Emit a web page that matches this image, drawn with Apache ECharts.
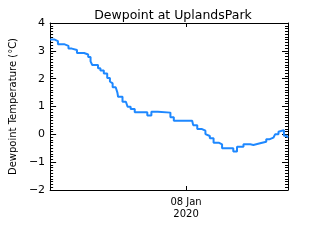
<!DOCTYPE html>
<html>
<head>
<meta charset="utf-8">
<script src="https://cdn.jsdelivr.net/npm/echarts@6/dist/echarts.min.js"></script>
<style>html,body{margin:0;padding:0;background:#fff}#c{width:320px;height:240px}</style>
</head>
<body>
<div id="c"></div>
<script>
// hours relative to 08 Jan 2020 00:00
const hours = [-40.0,-38.8,-37.7,-35.9,-34.6,-33.6,-32.1,-30.0,-28.8,-28.1,-27.6,-25.9,-25.2,-24.2,-23.2,-22.4,-22.0,-21.6,-20.7,-20.2,-20.0,-18.7,-17.7,-17.2,-16.3,-15.1,-11.4,-10.2,-8.3,-4.6,-3.6,1.8,2.1,3.3,4.7,5.7,6.2,7.0,8.1,9.6,10.6,13.9,15.0,16.9,18.9,19.8,20.3,21.8,23.6,24.5,25.7,26.2,27.2,27.7,28.8,29.6,30.0];
const dewpoint = [3.41,3.35,3.24,3.18,3.08,3.03,2.92,2.87,2.78,2.62,2.49,2.37,2.29,2.19,2.02,1.90,1.83,1.69,1.62,1.50,1.35,1.17,1.11,0.99,0.91,0.79,0.68,0.81,0.78,0.61,0.49,0.45,0.33,0.19,0.13,0.01,-0.06,-0.14,-0.30,-0.36,-0.50,-0.62,-0.45,-0.36,-0.38,-0.45,-0.32,-0.27,-0.18,-0.12,-0.05,0.00,0.09,0.15,-0.05,-0.12,-0.12];
const xTickLabels = {0: '08 Jan\n2020'};
const yTicks = [-2,-1,0,1,2,3,4];
const titleText = 'Dewpoint at UplandsPark';
const yName = 'Dewpoint Temperature (°C)';

const chart = echarts.init(document.getElementById('c'), null, {renderer: 'canvas'});
const font = 'DejaVu Sans';
const axisLine = {show: true, onZero: false, lineStyle: {color: '#000', width: 1}};
chart.setOption({
  animation: false,
  backgroundColor: '#fff',
  title: {text: titleText, left: 168, top: 4, textAlign: 'center',
    textStyle: {fontFamily: font, fontSize: 12.5, fontWeight: 'normal', color: '#000'}},
  grid: {left: 49, right: 32, top: 23, bottom: 50},
  xAxis: [{
    type: 'value', min: -40, max: 30, interval: 40, position: 'bottom',
    axisLine: axisLine,
    axisTick: {show: true, inside: true, length: 4, lineStyle: {color: '#000'}},
    axisLabel: {fontFamily: font, fontSize: 10, color: '#000', lineHeight: 12, margin: 6,
      formatter: v => xTickLabels[v] || ''},
    splitLine: {show: false}
  }, {
    type: 'value', min: -40, max: 30, interval: 40, position: 'top',
    axisLine: axisLine,
    axisTick: {show: true, inside: true, length: 4, lineStyle: {color: '#000'}},
    axisLabel: {show: false}, splitLine: {show: false}
  }],
  yAxis: [{
    type: 'value', min: -2, max: 4, interval: 1, position: 'left',
    name: yName, nameLocation: 'middle', nameGap: 21,
    nameTextStyle: {fontFamily: font, fontSize: 10, color: '#000'},
    axisLine: axisLine,
    axisTick: {show: true, inside: true, length: 6, lineStyle: {color: '#000'}},
    minorTick: {show: true, splitNumber: 10, length: 3, lineStyle: {color: '#000'}},
    axisLabel: {fontFamily: font, fontSize: 11, color: '#000', margin: 5,
      formatter: v => yTicks.includes(v) ? (v < 0 ? '\u2212' + Math.abs(v) : String(v)) : ''},
    splitLine: {show: false}
  }, {
    type: 'value', min: -2, max: 4, interval: 1, position: 'right',
    axisLine: axisLine,
    axisTick: {show: true, inside: true, length: 6, lineStyle: {color: '#000'}},
    minorTick: {show: true, splitNumber: 10, length: 3, lineStyle: {color: '#000'}},
    axisLabel: {show: false}, splitLine: {show: false}
  }],
  series: [{
    type: 'line', xAxisIndex: 0, yAxisIndex: 0,
    data: hours.map((h, i) => [h, dewpoint[i]]),
    step: 'end', showSymbol: false,
    lineStyle: {color: '#1e88ff', width: 2}
  }]
});
</script>
</body>
</html>
